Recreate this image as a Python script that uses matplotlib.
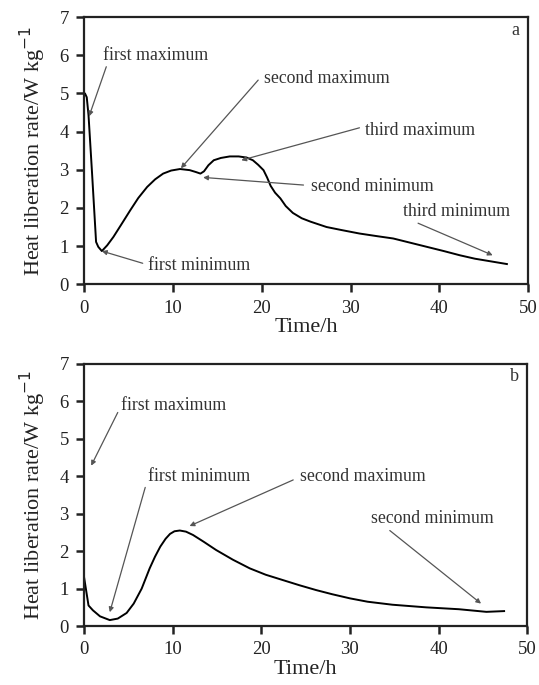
import numpy as np
import matplotlib
matplotlib.use('Agg')
import matplotlib.pyplot as plt

plt.rcParams['font.family'] = ['Liberation Serif', 'DejaVu Serif']

# curva a
tempo_a = [0, 0.1, 0.3, 0.5, 0.9, 1.35, 1.6, 2.0, 2.6, 3.3, 4.2, 5.2, 6.1, 7.1, 8.0, 8.9,
           9.8, 10.8, 11.9, 12.6, 13.1, 13.5, 14.0, 14.6, 15.4, 16.4, 17.4, 18.3, 19.0,
           19.6, 20.2, 20.6, 21.0, 21.5, 22.1, 22.7, 23.5, 24.5, 25.5, 27.3, 29.0, 31.0,
           33.0, 34.8, 36.7, 38.6, 40.5, 42.3, 44.0, 45.8, 47.6]
calor_a = [5.0, 5.0, 4.9, 4.43, 2.9, 1.11, 0.98, 0.87, 1.02, 1.24, 1.57, 1.94, 2.26, 2.55, 2.75, 2.9,
           2.98, 3.02, 2.99, 2.94, 2.9, 2.96, 3.12, 3.25, 3.31, 3.35, 3.35, 3.32, 3.25,
           3.13, 2.99, 2.8, 2.58, 2.4, 2.25, 2.05, 1.87, 1.73, 1.64, 1.5, 1.42, 1.33,
           1.26, 1.2, 1.09, 0.98, 0.87, 0.76, 0.67, 0.6, 0.53]

# curva b
tempo_b = [0, 0.2, 0.5, 1.0, 1.8, 2.9, 3.8, 4.8, 5.6, 6.5, 7.4, 8.0, 8.6, 9.2, 9.7, 10.2,
           10.8, 11.5, 12.3, 13.5, 14.9, 16.8, 18.7, 20.5, 22.4, 24.3, 26.2, 28.0, 30.0,
           32.0, 34.8, 38.6, 42.3, 45.4, 47.4]
calor_b = [1.3, 1.0, 0.55, 0.42, 0.26, 0.16, 0.2, 0.35, 0.6, 1.0, 1.54, 1.85, 2.12, 2.33, 2.46, 2.53,
           2.55, 2.52, 2.43, 2.25, 2.03, 1.77, 1.54, 1.37, 1.23, 1.09, 0.96, 0.85, 0.74,
           0.65, 0.57, 0.5, 0.45, 0.38, 0.4]

# anotacoes: texto, ponta da seta, posicao do texto
notas_a = [('first maximum', (0.56, 4.4), (2.1, 6.0)),
           ('first minimum', (2.0, 0.87), (7.2, 0.5)),
           ('second maximum', (10.9, 3.04), (20.2, 5.38)),
           ('third maximum', (17.7, 3.25), (31.6, 4.04)),
           ('second minimum', (13.4, 2.8), (25.5, 2.55)),
           ('third minimum', (46.0, 0.76), (35.9, 1.9))]
notas_b = [('first maximum', (0.8, 4.28), (4.2, 5.88)),
           ('first minimum', (2.9, 0.37), (7.2, 3.98)),
           ('second maximum', (11.9, 2.67), (24.4, 3.98)),
           ('second minimum', (44.8, 0.6), (32.4, 2.86))]

# pontos de inicio das setas (perto do texto)
inicio_a = [(2.5, 5.7), (6.6, 0.55), (19.6, 5.35), (31.0, 4.1), (24.7, 2.6), (37.6, 1.6)]
inicio_b = [(3.8, 5.7), (6.9, 3.7), (23.6, 3.9), (34.5, 2.55)]

fig = plt.figure(figsize=(5.39, 6.85), dpi=100)
ax_a = fig.add_axes([0.156, 0.585, 0.824, 0.390])
ax_b = fig.add_axes([0.156, 0.086, 0.822, 0.383])


def desenha(ax, t, q, notas, letra, pontas_texto):
    ax.plot(t, q, color='black', lw=1.4)
    ax.set_xlim(0, 50)
    ax.set_ylim(0, 7)
    ax.set_xticks([0, 10, 20, 30, 40, 50])
    ax.set_yticks(range(8))
    for s in ax.spines.values():
        s.set_linewidth(1.6)
        s.set_color('#222222')
    ax.tick_params(direction='out', length=6, width=1.8, labelsize=13.5, colors='#222222', pad=5)
    ax.set_xlabel('Time/h', fontsize=16, labelpad=1, color='#222222')
    ax.set_ylabel('Heat liberation rate/W kg$^{-1}$', fontsize=16, color='#222222')
    ax.yaxis.set_label_coords(-0.082, 0.5)
    for (txt, ponta, pos), ha_ini in zip(notas, pontas_texto):
        ax.annotate('', xy=ponta, xytext=ha_ini,
                    arrowprops=dict(arrowstyle='-|>', color='#555555', lw=0.9,
                                    mutation_scale=7, shrinkA=0, shrinkB=0))
        ax.text(pos[0], pos[1], txt, fontsize=12.8, va='center', ha='left', color='#333333')
    ax.text(48.6, 6.65, letra, fontsize=13, ha='center', va='center', color='#333333')


desenha(ax_a, tempo_a, calor_a, notas_a, 'a', inicio_a)
desenha(ax_b, tempo_b, calor_b, notas_b, 'b', inicio_b)

fig.savefig('out.png', dpi=100)
